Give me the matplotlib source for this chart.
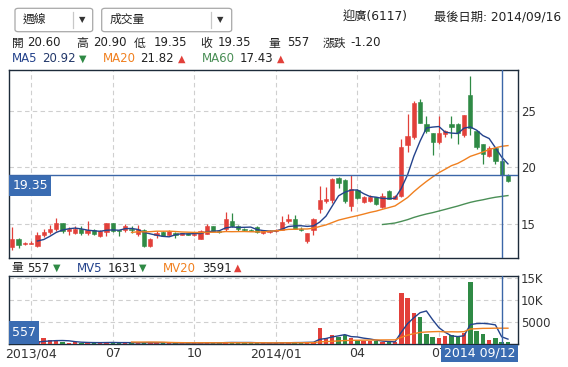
import matplotlib.pyplot as plt
import matplotlib.patches as mpatches
import numpy as np
import pandas as pd

plt.rcParams['font.family'] = ['DejaVu Sans', 'Noto Sans CJK TC']

# weekly OHLC, 2013/03 .. 2014/09/16
opens = [13.0, 13.65, 13.25, 13.25, 13.1, 14.0, 14.3, 14.55, 15.05, 14.35,
         14.25, 14.55, 14.25, 14.5, 13.95, 14.3, 15.05, 14.45, 14.5, 14.6,
         14.15, 14.5, 13.1, 14.0, 14.3, 14.0, 14.2, 14.05, 14.2, 14.05,
         13.7, 14.15, 14.8, 14.4, 14.6, 15.25, 14.8, 14.6, 14.5, 14.75,
         14.25, 14.3, 14.4, 14.5, 15.3, 15.4, 14.6, 13.5, 14.45, 16.35,
         17.0, 17.1, 19.1, 18.9, 16.6, 18.0, 16.95, 17.05, 17.35, 16.5,
         17.9, 17.25, 17.5, 22.0, 22.65, 25.8, 23.85, 23.0, 22.2, 22.97,
         23.85, 23.8, 22.85, 26.4, 23.2, 22.05, 21.0, 21.7, 20.6, 19.35]
highs = [14.7, 13.8, 13.45, 13.5, 14.3, 14.6, 14.9, 15.55, 15.1, 14.7,
         14.8, 14.8, 15.25, 14.6, 14.5, 15.1, 15.1, 14.5, 15.0, 14.8,
         14.9, 14.6, 13.75, 14.4, 14.35, 14.45, 14.3, 14.25, 14.25, 14.2,
         14.45, 15.0, 14.85, 14.5, 16.1, 16.0, 14.9, 14.65, 14.55, 14.8,
         14.4, 14.45, 14.6, 15.7, 15.85, 15.8, 14.7, 14.25, 15.5, 18.4,
         18.3, 19.1, 19.15, 19.0, 19.3, 18.1, 17.45, 17.6, 17.4, 17.7,
         18.0, 17.55, 22.55, 24.7, 25.85, 26.0, 24.5, 23.05, 24.5, 23.3,
         24.5, 23.9, 24.65, 28.05, 23.3, 22.1, 21.9, 21.75, 20.9, 19.4]
lows = [12.75, 12.9, 13.15, 13.2, 13.0, 13.85, 14.1, 14.4, 14.2, 14.0,
        14.1, 14.0, 14.0, 14.0, 13.85, 13.9, 14.3, 13.9, 14.3, 14.2,
        13.9, 13.0, 13.0, 13.75, 13.9, 13.95, 13.8, 14.0, 14.0, 13.9,
        13.65, 14.1, 14.35, 14.2, 14.4, 14.75, 14.35, 14.4, 14.35, 14.25,
        14.1, 14.2, 14.3, 14.45, 15.1, 14.55, 14.4, 13.35, 14.0, 16.0,
        16.9, 16.9, 18.2, 16.9, 16.15, 17.2, 16.85, 16.95, 16.7, 16.4,
        17.2, 17.2, 17.4, 21.4, 22.5, 23.9, 23.0, 21.1, 22.1, 22.7,
        22.6, 22.1, 22.7, 22.9, 21.6, 20.3, 20.9, 20.3, 19.35, 18.75]
closes = [13.65, 13.15, 13.35, 13.35, 14.0, 14.3, 14.6, 15.05, 14.4, 14.55,
          14.6, 14.25, 14.5, 14.1, 14.35, 15.05, 14.4, 14.35, 14.8, 14.45,
          14.6, 13.1, 13.7, 14.2, 13.95, 14.4, 14.0, 14.2, 14.05, 14.15,
          14.4, 14.8, 14.4, 14.3, 15.4, 14.8, 14.6, 14.45, 14.4, 14.3,
          14.35, 14.4, 14.5, 15.2, 15.45, 14.6, 14.5, 14.2, 15.45, 17.1,
          17.25, 19.0, 18.65, 17.05, 18.05, 17.3, 17.35, 17.4, 16.75, 17.5,
          17.25, 17.45, 21.8, 22.75, 25.7, 23.95, 23.2, 22.2, 23.0, 23.2,
          23.55, 23.0, 24.6, 23.5, 21.8, 21.15, 21.7, 20.55, 19.35, 18.8]
volumes = [500, 400, 300, 350, 600, 1300, 900, 700, 450, 300,
           350, 250, 400, 300, 250, 450, 350, 250, 300, 200,
           300, 450, 350, 250, 200, 250, 200, 200, 180, 200,
           300, 350, 250, 200, 500, 450, 300, 250, 200, 250,
           200, 200, 250, 400, 350, 400, 250, 450, 550, 3700,
           1300, 2050, 1650, 1950, 1450, 900, 700, 700, 650, 400,
           350, 350, 11650, 10400, 7100, 6100, 2270, 1650, 1430, 1800,
           2050, 1500, 2550, 14100, 3000, 2270, 900, 1430, 557, 380]

xtick_pos = [3, 16, 29, 42, 55, 68]
xtick_labels = ['2013/04', '07', '10', '2014/01', '04', '07']
cross_idx = 78

RED = '#e2403a'
GREEN = '#2f8a45'
BLUE = '#24438c'
ORANGE = '#f08020'
MA60_C = '#4a8f56'
CROSS = '#3b66a8'
BOX = '#3a6cb2'
FRAME = '#1d2b3a'
GRID = '#cfcfcf'
TXT = '#222222'

W, H = 568, 367


def fx(px):
    return px / W


def fy(py):
    return 1 - py / H


fig = plt.figure(figsize=(W / 100, H / 100), dpi=100)
fig.patch.set_facecolor('white')

ax = fig.add_axes([fx(9), fy(258), (518 - 9) / W, (258 - 70) / H])
axv = fig.add_axes([fx(9), fy(344), (518 - 9) / W, (344 - 276) / H])

x = np.arange(len(closes))
o = np.array(opens)
c = np.array(closes)
colors = np.where(c >= o, RED, GREEN)

# candles
ax.vlines(x, lows, highs, colors=colors, linewidth=0.9, zorder=3)
ax.bar(x, np.maximum(np.abs(c - o), 0.07), bottom=np.minimum(o, c), width=0.68,
       color=colors, edgecolor=colors, linewidth=0.4, zorder=3)

cs = pd.Series(closes)
ax.plot(x, cs.rolling(5).mean(), color=BLUE, lw=1.0, zorder=4)
ax.plot(x, cs.rolling(20).mean(), color=ORANGE, lw=1.0, zorder=4)
ax.plot(x, cs.rolling(60).mean(), color=MA60_C, lw=1.0, zorder=4)

# volume
axv.bar(x, volumes, width=0.7, color=colors, zorder=3)
vs = pd.Series(volumes)
axv.plot(x, vs.rolling(5).mean(), color=BLUE, lw=1.0, zorder=4)
axv.plot(x, vs.rolling(20).mean(), color=ORANGE, lw=1.0, zorder=4)

# crosshair
ax.axvline(cross_idx, color=CROSS, lw=1.0, zorder=5)
axv.axvline(cross_idx, color=CROSS, lw=1.0, zorder=5)
ax.axhline(closes[cross_idx], color=CROSS, lw=1.0, zorder=5)

for a in (ax, axv):
    a.set_xlim(-0.53, 80.6)
    a.set_xticks(xtick_pos)
    a.grid(True, ls=(0, (4, 3)), color=GRID, lw=0.8, zorder=0)
    a.yaxis.tick_right()
    a.tick_params(length=0, colors='#333333')
    for s in a.spines.values():
        s.set_color(FRAME)
        s.set_linewidth(1.0)
    a.set_axisbelow(True)

ax.set_ylim(12.0, 28.6)
ax.set_yticks([15, 20, 25])
ax.set_xticklabels([])
ax.tick_params(axis='y', pad=2, labelsize=8.5)

axv.set_ylim(0, 15450)
axv.set_yticks([5000, 10000, 15000])
axv.set_yticklabels(['5000', '10K', '15K'])
axv.set_xticklabels(xtick_labels)
axv.tick_params(axis='y', pad=2, labelsize=8.5)
axv.tick_params(axis='x', pad=2.5, labelsize=9)


def box(x0, y0, x1, y1, label, size=9):
    fig.patches.append(mpatches.Rectangle((fx(x0), fy(y1)), (x1 - x0) / W, (y1 - y0) / H,
                                          transform=fig.transFigure, facecolor=BOX,
                                          edgecolor='none', zorder=10))
    fig.text(fx((x0 + x1) / 2), fy((y0 + y1) / 2), label, color='white', fontsize=size,
             ha='center', va='center', zorder=11)


box(9.3, 175.7, 50.7, 195.7, '19.35')
box(9.3, 320.7, 39, 344, str(volumes[cross_idx]))
box(440.7, 345, 518, 362, '2014 09/12')


def t(px, py, s, color=TXT, size=8.5, **kw):
    fig.text(fx(px), fy(py), s, color=color, fontsize=size, va='center', ha='left', **kw)


# dropdowns
for x0, x1, sep, label in [(15, 92.7, 72.7, '週線'), (101.7, 231.7, 210.7, '成交量')]:
    fig.patches.append(mpatches.FancyBboxPatch((fx(x0), fy(31.7)), (x1 - x0) / W, (31.7 - 8.3) / H,
                                               boxstyle='round,pad=0,rounding_size=0.006',
                                               transform=fig.transFigure, facecolor='white',
                                               edgecolor='#a8a8a8', lw=0.9))
    fig.lines.append(plt.Line2D([fx(sep), fx(sep)], [fy(11.7), fy(28.3)], transform=fig.transFigure,
                                color='#c8c8c8', lw=0.9))
    t(x0 + 7.5, 19.5, label, size=8.5)
    fig.text(fx(sep + 9.3), fy(20), '▼', fontsize=6, color='#333333', ha='center', va='center')

t(343, 16.5, '迎廣(6117)', size=8.8)
fig.text(fx(561), fy(16.5), '最後日期: 2014/09/16', fontsize=8.8, color=TXT,
         ha='right', va='center')

# OHLC line
for px, s in [(11.7, '開'), (27.3, '20.60'), (76, '高'), (92.7, '20.90'), (133.3, '低'),
              (154, '19.35'), (200, '收'), (217.3, '19.35'), (268.3, '量'), (287.3, '557'),
              (322.3, '漲跌'), (350.7, '-1.20')]:
    t(px, 43, s)

# MA line
t(11.7, 58.5, 'MA5', color=BLUE)
t(41.7, 58.5, '20.92', color='#23386a')
t(79.3, 58.5, '▼', color=GREEN, size=7)
t(102.7, 58.5, 'MA20', color=ORANGE)
t(140, 58.5, '21.82')
t(177.7, 58.5, '▲', color=RED, size=7)
t(202.3, 58.5, 'MA60', color=MA60_C)
t(239.3, 58.5, '17.43')
t(276.7, 58.5, '▲', color=RED, size=7)

# volume line
t(11, 268, '量')
t(27.3, 268, '557')
t(52.7, 268, '▼', color=GREEN, size=7)
t(76.7, 268, 'MV5', color=BLUE)
t(107.3, 268, '1631')
t(139.3, 268, '▼', color=GREEN, size=7)
t(163.3, 268, 'MV20', color=ORANGE)
t(201.7, 268, '3591')
t(234.3, 268, '▲', color=RED, size=7)

fig.savefig('out.png', dpi=100)
